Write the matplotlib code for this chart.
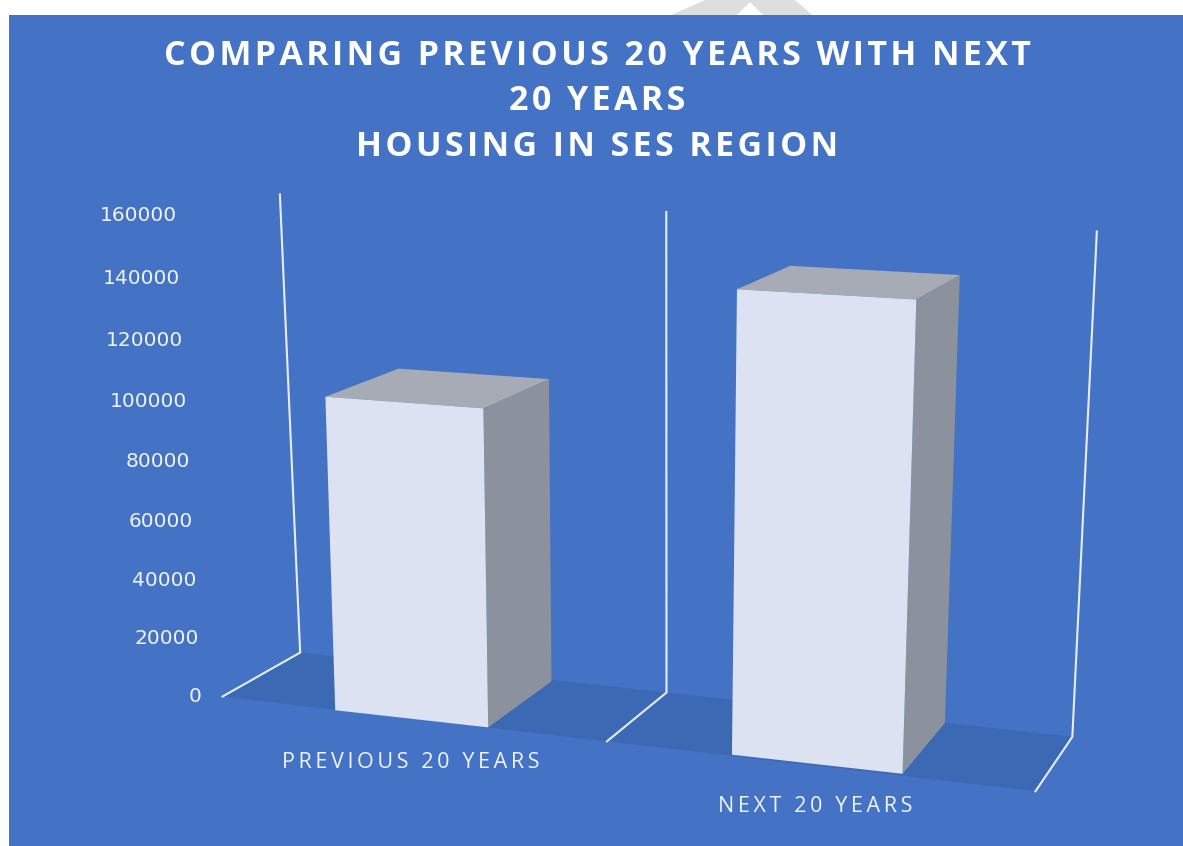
#!/usr/bin/env python3
import numpy as np
import matplotlib
matplotlib.use('Agg')
import matplotlib.pyplot as plt
from matplotlib.patches import Polygon, Rectangle

categories = ['PREVIOUS 20 YEARS', 'NEXT 20 YEARS']
values = [100000, 140000]
ticks = [0, 20000, 40000, 60000, 80000, 100000, 120000, 140000, 160000]
title_lines = ['COMPARING PREVIOUS 20 YEARS WITH NEXT', '20 YEARS', 'HOUSING IN SES REGION']

BLUE = '#4472c4'
FLOOR = '#3b69b3'
FRONT = '#dce2f2'
TOP = '#a6abb6'
SIDE = '#8b929e'
LINE = '#e6ecf8'

plt.rcParams['font.family'] = ['Open Sans', 'DejaVu Sans']

# (slot, depth, value) -> pixel, one camera for the chart box and one for the bars
box_anchors = [
    ((0, 0, 0), (222, 697)), ((1, 0, 0), (608, 741)), ((2, 0, 0), (1035, 791)),
    ((0, 1, 0), (300, 652)), ((1, 1, 0), (667, 692)), ((2, 1, 0), (1072, 738)),
    ((0, 1, 160000), (280, 195)), ((1, 1, 160000), (666, 212)), ((2, 1, 160000), (1097, 231)),
]
bar_anchors = [
    ((0.295, 0, 0), (336, 711)), ((0.69, 0, 0), (488, 726)), ((0.69, 0.96, 0), (551, 682)),
    ((1.29, 0, 0), (733, 755)), ((1.69, 0, 0), (902, 774)), ((1.69, 0.96, 0), (945, 723)),
    ((0.295, 0, 100000), (325, 398)), ((0.69, 0, 100000), (482, 407)),
    ((0.295, 0.96, 100000), (400, 368)), ((0.69, 0.96, 100000), (547, 378)),
    ((1.29, 0, 140000), (738, 291)), ((1.69, 0, 140000), (916, 298)),
    ((1.29, 0.96, 140000), (792, 267)), ((1.69, 0.96, 140000), (959, 275)),
]


def fit_camera(anchors):
    rows = []
    for (x, d, v), (px, py) in anchors:
        w = [x, d, v / 1e5, 1]
        rows.append(w + [0, 0, 0, 0] + [-px * c for c in w])
        rows.append([0, 0, 0, 0] + w + [-py * c for c in w])
    return np.linalg.svd(np.array(rows, dtype=float))[2][-1].reshape(3, 4)


box_cam = fit_camera(box_anchors)
bar_cam = fit_camera(bar_anchors)


def project(cam, x, d, v):
    p = cam @ np.array([x, d, v / 1e5, 1.0])
    return p[0] / p[2], p[1] / p[2]


def tick_pos(v):
    # the value labels sit on their own perspective scale
    u = v / 80000
    y = (696 - 245.3 * u) / (1 - 0.0244 * u)
    return 202 - 25 * (696 - y) / 480, y


def face(ax, cam, corners, color, z):
    ax.add_patch(Polygon([project(cam, *c) for c in corners], closed=True, fc=color, ec='none', zorder=z))


fig = plt.figure(figsize=(11.83, 8.46), dpi=100, facecolor='white')
ax = fig.add_axes([0, 0, 1, 1])
ax.set_xlim(0, 1183)
ax.set_ylim(846, 0)
ax.axis('off')

# watermark shape behind the panel, then the panel
ax.add_patch(Polygon([(671, 15), (705, 0), (795, 0), (812, 15), (763, 15), (750, 2), (737, 15)],
                     closed=True, fc='#dedede', ec='none', zorder=0))
ax.add_patch(Rectangle((9, 15), 1174, 831, fc=BLUE, ec='none', zorder=1))

# floor
face(ax, box_cam, [(0, 0, 0), (2, 0, 0), (2, 1, 0), (0, 1, 0)], FLOOR, 2)

# walls of the slots
for x in [0, 1, 2]:
    pts = [project(box_cam, x, 0, 0), project(box_cam, x, 1, 0), project(box_cam, x, 1, 160000)]
    ax.plot(*zip(*pts), color=LINE, lw=1.5, zorder=3, solid_joinstyle='miter')

# bars
bar_x = [(0.295, 0.69), (1.29, 1.69)]
d0, d1 = 0.0, 0.96
for (x0, x1), v in zip(bar_x, values):
    face(ax, bar_cam, [(x1, d0, 0), (x1, d1, 0), (x1, d1, v), (x1, d0, v)], SIDE, 4)
    face(ax, bar_cam, [(x0, d0, v), (x1, d0, v), (x1, d1, v), (x0, d1, v)], TOP, 4)
    face(ax, bar_cam, [(x0, d0, 0), (x1, d0, 0), (x1, d0, v), (x0, d0, v)], FRONT, 5)

for t in ticks:
    px, py = tick_pos(t)
    ax.text(px, py, str(t), color='#f0f3fb', fontsize=14.5, family='DejaVu Sans',
            ha='right', va='center', zorder=6)

# category labels, letterspaced
label_pos = [(411, 762), (815, 806)]
for name, (px, py) in zip(categories, label_pos):
    ax.text(px, py, '\u2009'.join(name), color='#f0f3fb', fontsize=15.5, ha='center', va='center', zorder=6)

for line, py in zip(title_lines, [56, 101, 147]):
    ax.text(597, py, '\u200a'.join(line), color='white', fontsize=24.5, fontweight='bold',
            ha='center', va='center', zorder=6)

fig.savefig('out.png', dpi=100, facecolor='white')
